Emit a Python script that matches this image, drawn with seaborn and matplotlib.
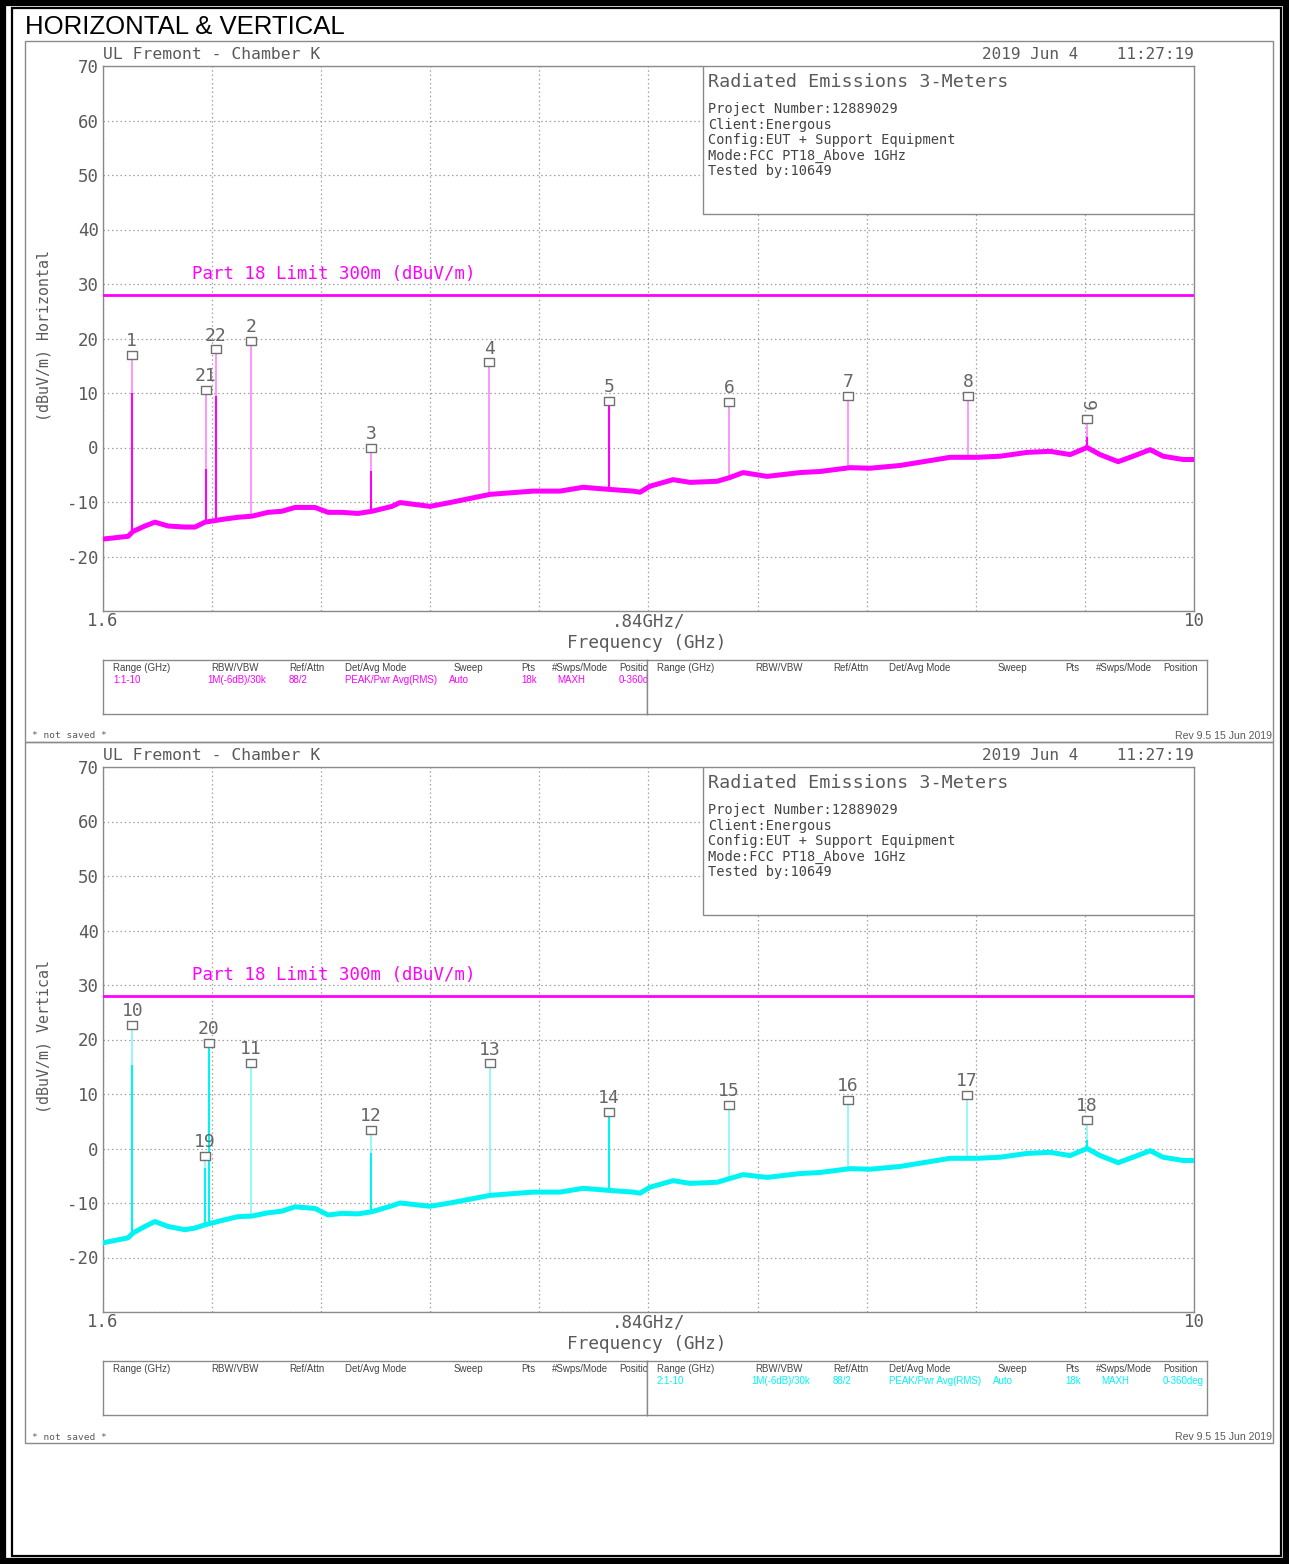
import numpy as np
import pandas as pd
import matplotlib
matplotlib.use("Agg")
import matplotlib.pyplot as plt
import seaborn as sns
from matplotlib.patches import Rectangle
from matplotlib.path import Path

# ---------------- data ----------------
freq_ticks = [1.6, 2.44, 3.28, 4.12, 4.96, 5.8, 6.64, 7.48, 8.32, 9.16, 10.0]
freq_tick_labels = ["1.6", "", "", "", "", ".84GHz/", "", "", "", "", "10"]
level_ticks = [-30, -20, -10, 0, 10, 20, 30, 40, 50, 60, 70]
level_tick_labels = ["", "-20", "-10", "0", "10", "20", "30", "40", "50", "60", "70"]
limit_level = 28.0

floor_freq = [1.600, 1.793, 1.831, 1.923, 2.000, 2.100, 2.231, 2.308, 2.385, 2.516,
              2.640, 2.747, 2.870, 2.978, 3.078, 3.232, 3.333, 3.440, 3.563, 3.671,
              3.825, 3.887, 4.118, 4.272, 4.580, 4.911, 5.119, 5.296, 5.504, 5.681,
              5.735, 5.812, 5.989, 6.120, 6.328, 6.428, 6.528, 6.713, 6.967, 7.121,
              7.352, 7.506, 7.737, 7.891, 8.122, 8.330, 8.507, 8.715, 8.892, 9.046,
              9.177, 9.277, 9.416, 9.531, 9.662, 9.762, 9.916, 10.000]
floor_h = [-16.8, -16.3, -15.4, -14.4, -13.7, -14.4, -14.6, -14.6, -13.7, -13.2,
           -12.8, -12.6, -11.9, -11.7, -11.0, -11.0, -11.9, -11.9, -12.1, -11.7,
           -10.8, -10.1, -10.8, -10.1, -8.6, -8.0, -8.0, -7.3, -7.7, -8.0,
           -8.2, -7.1, -5.9, -6.4, -6.2, -5.5, -4.6, -5.3, -4.6, -4.4,
           -3.7, -3.8, -3.3, -2.7, -1.8, -1.8, -1.6, -0.9, -0.7, -1.3,
           0.0, -1.3, -2.6, -1.6, -0.4, -1.6, -2.2, -2.2]
floor_v = [-17.3, -16.4, -15.5, -14.3, -13.4, -14.3, -14.9, -14.6, -14.0, -13.2,
           -12.5, -12.4, -11.8, -11.5, -10.7, -11.0, -12.2, -11.9, -12.0, -11.6,
           -10.5, -10.0, -10.6, -10.0, -8.6, -8.0, -8.0, -7.3, -7.7, -8.0,
           -8.2, -7.1, -5.9, -6.4, -6.2, -5.5, -4.8, -5.3, -4.6, -4.4,
           -3.7, -3.8, -3.3, -2.7, -1.8, -1.8, -1.6, -0.9, -0.7, -1.3,
           0.0, -1.3, -2.6, -1.6, -0.4, -1.6, -2.2, -2.2]

h_ids = ["1", "21", "22", "2", "3", "4", "5", "6", "7", "8", "9"]
h_freq = [1.821, 2.393, 2.468, 2.740, 3.664, 4.575, 5.498, 6.422, 7.336, 8.263, 9.179]
h_level = [17.0, 10.5, 18.0, 19.6, 0.0, 15.6, 8.5, 8.3, 9.5, 9.4, 5.2]
h_base = [-15.8, -13.7, -13.4, -12.6, -11.7, -8.6, -7.7, -5.5, -3.6, -1.8, 0.0]
h_spike = [10.0, -4.0, 9.5, -12.6, -4.4, -8.6, 8.5, -5.5, -3.6, -1.8, 2.0]

v_ids = ["10", "19", "20", "11", "12", "13", "14", "15", "16", "17", "18"]
v_freq = [1.826, 2.385, 2.416, 2.740, 3.664, 4.580, 5.496, 6.420, 7.336, 8.252, 9.176]
v_level = [22.6, -1.4, 19.3, 15.7, 3.4, 15.6, 6.7, 8.0, 8.9, 9.8, 5.2]
v_base = [-15.5, -13.8, -13.8, -12.6, -11.7, -8.6, -7.7, -5.5, -3.6, -1.8, 0.0]
v_spike = [15.3, -3.6, 19.3, -12.6, -0.8, -8.6, 6.7, -5.5, -3.6, -1.8, 1.5]

table_headers = ["Range (GHz)", "RBW/VBW", "Ref/Attn", "Det/Avg Mode", "Sweep",
                 "Pts", "#Swps/Mode", "Position"]
h_table_values = ["1:1-10", "1M(-6dB)/30k", "88/2", "PEAK/Pwr Avg(RMS)", "Auto",
                  "18k", "MAXH", "0-360deg"]
v_table_values = ["2:1-10", "1M(-6dB)/30k", "88/2", "PEAK/Pwr Avg(RMS)", "Auto",
                  "18k", "MAXH", "0-360deg"]

info_title = "Radiated Emissions 3-Meters"
info_lines = ["Project Number:12889029", "Client:Energous",
              "Config:EUT + Support Equipment", "Mode:FCC PT18_Above 1GHz",
              "Tested by:10649"]

# ---------------- style ----------------
sns.set_style("white")
plt.rcParams["font.family"] = ["DejaVu Sans Mono", "DejaVu Sans"]
MAG = "#ff00ff"
MAG_PALE = "#ff8cff"
CYA = "#00f4f4"
CYA_PALE = "#8cf8f8"
TXT = "#5a5a5a"
FRAME = "#8a8a8a"

W, H = 1289, 1564
fig = plt.figure(figsize=(W / 100, H / 100), dpi=100)
fig.patch.set_facecolor("white")

# background overlay in pixel coordinates
bg = fig.add_axes([0, 0, 1, 1], zorder=0)
bg.set_xlim(0, W)
bg.set_ylim(H, 0)
bg.axis("off")
bg.patch.set_alpha(0)

# outer borders
bg.add_patch(Rectangle((3, 3), W - 6, H - 6, fill=False, ec="black", lw=4.5))
bg.add_patch(Rectangle((11.5, 8), 1269.5, 1548, fill=False, ec="black", lw=1.6))

bg.text(25, 27, "HORIZONTAL & VERTICAL", fontsize=18.5, family="Liberation Sans",
        color="black", ha="left", va="center")

marker_path = Path([(-1.35, -1), (1.35, -1), (1.35, 1), (-1.35, 1), (-1.35, -1)],
                   [Path.MOVETO, Path.LINETO, Path.LINETO, Path.LINETO, Path.CLOSEPOLY])

col_hdr_x = [10, 108, 186, 242, 351, 418, 449, 516]
col_val_x = [10, 104, 186, 242, 346, 418, 454, 516]


def draw_table(x0, x1, y0, y1, values, color):
    axt = fig.add_axes([x0 / W, 1 - y1 / H, (x1 - x0) / W, (y1 - y0) / H], zorder=2)
    axt.set_xlim(x0, x1)
    axt.set_ylim(y1, y0)
    axt.set_xticks([])
    axt.set_yticks([])
    for s in axt.spines.values():
        s.set_color(FRAME)
        s.set_linewidth(1.0)
    for hx, hdr in zip(col_hdr_x, table_headers):
        axt.text(x0 + hx, y0 + 7.5, hdr, fontsize=7.0, family="Liberation Sans",
                 color="#444444", ha="left", va="center", clip_on=True)
    if values is not None:
        for vx, val in zip(col_val_x, values):
            axt.text(x0 + vx, y0 + 19.5, val, fontsize=7.0, family="Liberation Sans",
                     color=color, ha="left", va="center", clip_on=True)


def draw_panel(top, floor_vals, color, pale, ids, freqs, levels, bases, spikes,
               ylabel, left_values, right_values, rot_ids):
    # panel frame
    bg.add_patch(Rectangle((25, top - 25), 1248, 701, fill=False, ec=FRAME, lw=1.0))
    bg.text(32, top + 670, "* not saved *", fontsize=6.8, color=TXT, ha="left", va="center")
    bg.text(1272, top + 670, "Rev 9.5 15 Jun 2019", fontsize=7.6, color=TXT,
            ha="right", va="center", family="Liberation Sans")

    ax = fig.add_axes([103 / W, 1 - (top + 545) / H, 1091 / W, 545 / H], zorder=1)
    ax.set_facecolor("white")
    df = pd.DataFrame({"freq": floor_freq, "level": floor_vals})

    ax.set_xlim(1.6, 10.0)
    ax.set_ylim(-30, 70)
    ax.set_xticks(freq_ticks)
    ax.set_xticklabels(freq_tick_labels)
    ax.set_yticks(level_ticks)
    ax.set_yticklabels(level_tick_labels)
    ax.tick_params(axis="y", length=0, labelsize=12.5, labelcolor=TXT, pad=3)
    ax.tick_params(axis="x", length=0, labelsize=12.5, labelcolor=TXT, pad=1)
    ax.grid(True, color="#a0a0a0", linestyle=(0, (1.2, 2.2)), linewidth=0.9)
    for s in ax.spines.values():
        s.set_color(FRAME)
        s.set_linewidth(1.0)

    # limit line
    ax.axhline(limit_level, color=MAG, lw=2.0, zorder=3)
    ax.text(2.285, 31.8, "Part 18 Limit 300m (dBuV/m)", fontsize=12.5, color=MAG,
            ha="left", va="center", zorder=3)

    # spikes
    ax.vlines(freqs, bases, levels, color=pale, lw=1.3, zorder=3)
    ax.vlines(freqs, bases, spikes, color=color, lw=1.5, zorder=3)

    # trace
    sns.lineplot(data=df, x="freq", y="level", ax=ax, color=color, lw=3.6,
                 zorder=4, legend=False)

    # markers and labels
    mdf = pd.DataFrame({"freq": freqs, "level": levels})
    ax.plot(mdf["freq"], mdf["level"], linestyle="none", marker=marker_path,
            markersize=7.0, markerfacecolor="white", markeredgecolor="#707070",
            markeredgewidth=1.0, zorder=6)
    for mid, f, lv in zip(ids, freqs, levels):
        rot = -90 if mid in rot_ids else 0
        off = 6 if rot else 3.5
        ax.annotate(mid, (f, lv), xytext=(0, off), textcoords="offset points",
                    ha="center", va="bottom", fontsize=13, color="#666666",
                    rotation=rot, zorder=6)

    ax.set_xlabel("Frequency (GHz)", fontsize=12.8, color=TXT)
    ax.xaxis.set_label_coords(0.498, -0.059)
    ax.xaxis.label.set_va("center")
    ax.set_ylabel(ylabel, fontsize=10.8, color=TXT)
    ax.yaxis.set_label_coords(-0.054, 0.505)
    ax.yaxis.label.set_va("center")

    # header
    ax.text(0, 1.022, "UL Fremont - Chamber K", transform=ax.transAxes, fontsize=11.8,
            color=TXT, ha="left", va="center")
    ax.text(1, 1.022, "2019 Jun 4    11:27:19", transform=ax.transAxes, fontsize=11.5,
            color=TXT, ha="right", va="center")

    # info box
    ax.add_patch(Rectangle((0.55, 0.728), 0.45, 0.272, transform=ax.transAxes,
                           facecolor="white", edgecolor=FRAME, lw=1.0, zorder=7))
    ax.text(0.5545, 0.9706, info_title, transform=ax.transAxes, fontsize=13.2,
            color=TXT, ha="left", va="center", zorder=8)
    for i, line in enumerate(info_lines):
        ax.text(0.5545, 0.9211 - i * 0.0285, line, transform=ax.transAxes,
                fontsize=9.8, color="#444444", ha="left", va="center", zorder=8)

    # tables
    draw_table(103, 647, top + 594, top + 648, left_values, color)
    draw_table(647, 1207, top + 594, top + 648, right_values, color)
    return ax


draw_panel(66, floor_h, MAG, MAG_PALE, h_ids, h_freq, h_level, h_base, h_spike,
           "(dBuV/m) Horizontal", h_table_values, None, ["9"])
draw_panel(767, floor_v, CYA, CYA_PALE, v_ids, v_freq, v_level, v_base, v_spike,
           "(dBuV/m) Vertical", None, v_table_values, [])

fig.savefig("out.png", dpi=100, facecolor="white")
